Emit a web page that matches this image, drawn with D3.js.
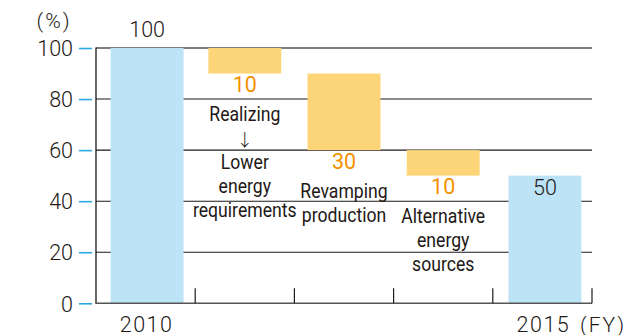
<!DOCTYPE html>
<html>
<head>
<meta charset="utf-8">
<script src="https://cdn.jsdelivr.net/npm/d3@7"></script>
<style>
  html, body { margin: 0; padding: 0; background: #fff; }
  svg { display: block; }
  text { font-family: Roboto, "Noto Sans", sans-serif; font-weight: 300; fill: #231815; }
</style>
</head>
<body>
<script>
// ---- data ----
const categories = ["2010", "Realizing", "Revamping", "Alternative", "2015"];
const changes = [100, -10, -30, -10, 50];          // first and last are totals
const isTotal = [true, false, false, false, true];
const valueLabels = ["100", "10", "30", "10", "50"];
const stepLabels = [
  [],
  ["Realizing", "↓", "Lower", "energy", "requirements"],
  ["Revamping", "production"],
  ["Alternative", "energy", "sources"],
  []
];
const xTickLabels = ["2010", "", "", "", "2015"];
const yTicks = [0, 20, 40, 60, 80, 100];
const yUnit = "(%)";
const xUnit = "(FY)";

// ---- layout ----
const W = 628, H = 335;
const pLeft = 96, pRight = 592, pTop = 48, pBottom = 303.3;
const blue = "#bde3f7", orange = "#fcd579", orangeText = "#f39200", tickBlue = "#2aa9e3";

const svg = d3.select("body").append("svg").attr("width", W).attr("height", H);

const x = d3.scaleBand().domain(categories).range([pLeft, pRight]).paddingInner(0.265).paddingOuter(0.1325);
const y = d3.scaleLinear().domain([0, 100]).range([pBottom, pTop]);

// compute waterfall segments
let run = 0;
const bars = categories.map((c, i) => {
  let lo, hi;
  if (isTotal[i]) { lo = 0; hi = changes[i]; run = changes[i]; }
  else { const nr = run + changes[i]; lo = Math.min(run, nr); hi = Math.max(run, nr); run = nr; }
  return { cat: c, lo, hi, total: isTotal[i], label: valueLabels[i], lines: stepLabels[i], i };
});

// gridlines
svg.append("g").selectAll("line").data(yTicks.filter(d => d > 0)).join("line")
  .attr("x1", pLeft).attr("x2", pRight)
  .attr("y1", d => y(d)).attr("y2", d => y(d))
  .attr("stroke", d => d === 100 ? "#555" : "#1a1a1a")
  .attr("stroke-width", d => d === 100 ? 1.4 : 1.1);

// bars (outer totals nudged slightly outward as in the reference)
const nudge = [1.5, 0, 0, 0, 2.5];
svg.append("g").selectAll("rect").data(bars).join("rect")
  .attr("x", d => x(d.cat) + nudge[d.i]).attr("width", x.bandwidth())
  .attr("y", d => y(d.hi)).attr("height", d => y(d.lo) - y(d.hi))
  .attr("fill", d => d.total ? blue : orange);

// axes lines
svg.append("line").attr("x1", pLeft).attr("x2", pLeft).attr("y1", pTop - 0.5).attr("y2", pBottom)
  .attr("stroke", "#1a1a1a").attr("stroke-width", 1.3);
svg.append("line").attr("x1", pLeft - 0.6).attr("x2", pRight).attr("y1", pBottom).attr("y2", pBottom)
  .attr("stroke", "#555").attr("stroke-width", 1.4);

// x boundary ticks (inside, upward)
const bounds = d3.range(1, categories.length + 1).map(i => x.range()[0] + i * x.step());
svg.append("g").selectAll("line").data(bounds).join("line")
  .attr("x1", d => d).attr("x2", d => d)
  .attr("y1", pBottom - 15).attr("y2", pBottom)
  .attr("stroke", "#1a1a1a").attr("stroke-width", 1.2);

// y axis ticks + labels
const yAxis = d3.axisLeft(y).tickValues(yTicks).tickSizeInner(13).tickSizeOuter(0).tickPadding(6);
const ya = svg.append("g").attr("transform", "translate(92,0)").call(yAxis);
ya.select(".domain").remove();
ya.selectAll(".tick line").attr("stroke", tickBlue).attr("stroke-width", 1.6);
ya.selectAll(".tick text").attr("font-size", 21.5).attr("fill", "#231815")
  .attr("font-family", "Roboto, sans-serif").attr("font-weight", 300).attr("dy", "0.36em");

// unit label
svg.append("text").attr("x", 54).attr("y", 28).attr("text-anchor", "middle")
  .attr("font-size", 21).attr("letter-spacing", 2).text(yUnit);

// x tick labels
const xl = svg.append("g");
xTickLabels.forEach((t, i) => {
  if (!t) return;
  xl.append("text").attr("x", x(categories[i]) + x.bandwidth() / 2 + 1).attr("y", 331.5)
    .attr("text-anchor", "middle").attr("font-size", 21.5).attr("letter-spacing", 1.5).text(t);
});
xl.append("text").attr("x", 580).attr("y", 331.5).attr("font-size", 21).attr("letter-spacing", 2).text(xUnit);

// value labels
bars.forEach((d, i) => {
  const cx = x(d.cat) + x.bandwidth() / 2 + nudge[i];
  if (d.total) {
    const above = i === 0;
    svg.append("text").attr("x", cx).attr("y", above ? y(d.hi) - 11 : y(d.hi) + 19.5)
      .attr("text-anchor", "middle").attr("font-size", 21.5).text(d.label);
  } else {
    const base = y(d.lo) + 18.5;
    svg.append("text").attr("x", cx).attr("y", base)
      .attr("text-anchor", "middle").attr("font-size", 21.5)
      .style("fill", orangeText).style("font-weight", 400).text(d.label);
    d.lines.forEach((ln, k) => {
      const isArrow = ln === "↓";
      svg.append("text")
        .attr("transform", `translate(${cx},${base + 29 + k * 24 + (isArrow ? 0.5 : 0)}) scale(${isArrow ? 1 : 0.86},1)`)
        .attr("text-anchor", "middle")
        .attr("font-size", isArrow ? 17 : 20.5)
        .style("font-family", isArrow ? "'Noto Sans CJK JP', 'DejaVu Sans', sans-serif" : null)
        .style("font-weight", isArrow ? 300 : 400)
        .text(ln);
    });
  }
});
</script>
</body>
</html>
